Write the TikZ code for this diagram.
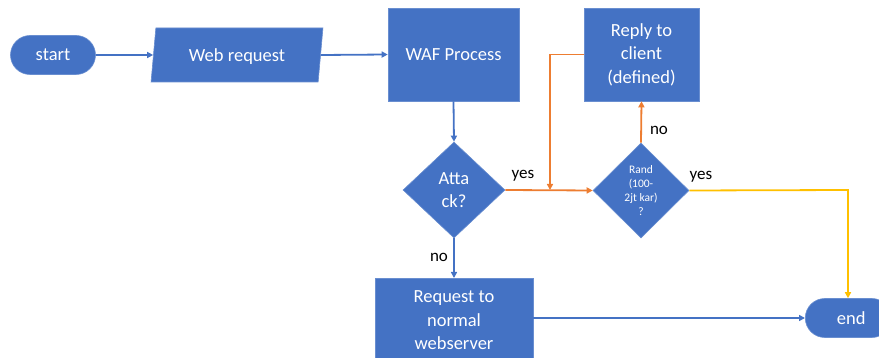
\documentclass[tikz,border=0pt]{standalone}
\usepackage{fontspec}
\setmainfont{Carlito}
\usetikzlibrary{shapes.geometric,arrows.meta}
\definecolor{fcblue}{HTML}{4472C4}
\definecolor{fcorange}{HTML}{ED7D31}
\definecolor{fcyellow}{HTML}{FFC000}
\tikzset{
  box/.style={fill=fcblue, draw=fcblue!80!white, line width=0.6pt, text=white, font=\fontsize{18.5}{23.5}\selectfont, align=center, inner sep=0pt},
  stadium/.style={box, rounded corners=19.5pt, minimum height=39pt},
  lbl/.style={font=\fontsize{17}{19}\selectfont, text=black, inner sep=0pt},
  conn/.style={line width=1.8pt, -{Triangle[length=6pt,width=6pt]}},
}
\begin{document}
\begin{tikzpicture}[x=1pt,y=-1pt]
\useasboundingbox (0,0) rectangle (879,358);
\clip (0,0) rectangle (879,358);
\node[stadium, minimum width=85pt] (start) at (53,55) {start};
\node[box, trapezium, trapezium left angle=77.5, trapezium right angle=102.5, trapezium stretches=true, minimum width=172pt, minimum height=54pt, text depth=0pt] (web) at (237,55) {Web request};
\node[box, minimum width=131pt, minimum height=93pt] (waf) at (453.5,54.5) {WAF Process};
\node[box, minimum width=115pt, minimum height=93pt] (reply) at (641.5,54.5) {Reply to\\client\\(defined)};
\node[box, diamond, minimum width=102pt, minimum height=96pt] (attack) at (454,190) {Atta\\ck?};
\node[box, diamond, minimum width=96pt, minimum height=95pt, font=\fontsize{11.5}{14}\selectfont] (rand) at (641,190.5) {Rand\\(100-\\2jt kar)\\?};
\node[box, minimum width=158pt, minimum height=84pt, anchor=north] (req) at (454,278) {Request to\\normal\\webserver};
\node[stadium, minimum width=86pt, anchor=west] (end) at (805,318) {\hspace*{6pt}end};
\coordinate (join) at (550,190);
\coordinate (ycorner) at (848,190);

\draw[conn, fcblue] (start.east) -- (web.west);
\draw[conn, fcblue] (web.east) -- (waf.west);
\draw[conn, fcblue] (waf.south) -- (attack.north);
\draw[conn, fcblue] (attack.south) -- (req.north);
\draw[conn, fcblue] (req.east |- end.west) -- (end.west);
\draw[conn, fcorange] (attack.east) -- (rand.west);
\draw[conn, fcorange] (reply.west) -| (join);
\draw[conn, fcorange] (rand.north) -- (reply.south);
\draw[conn, fcyellow] (rand.east) -- (ycorner) -- (ycorner |- end.north);

\node[lbl] (l1) at (523,176) {yes};
\node[lbl] (l2) at (659,130) {no};
\node[lbl] (l3) at (701,177) {yes};
\node[lbl] (l4) at (439,257) {no};
\end{tikzpicture}
\end{document}
